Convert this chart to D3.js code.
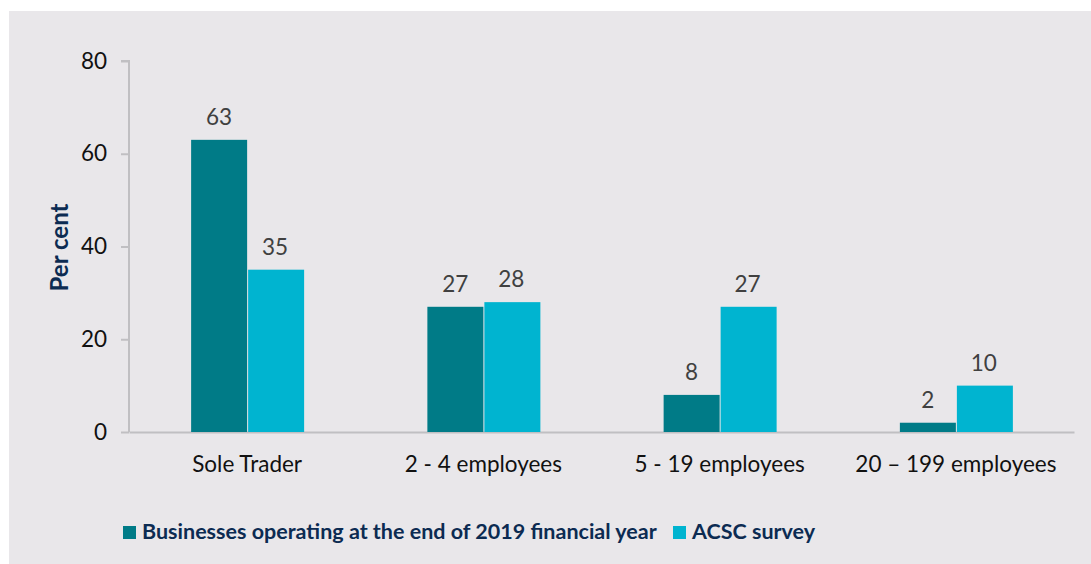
<!DOCTYPE html>
<html><head><meta charset="utf-8">
<script src="https://cdn.jsdelivr.net/npm/d3@7"></script>
<style>
html,body{margin:0;padding:0;background:#fff;}
svg{display:block;}
text{font-family:Lato,"Open Sans",sans-serif;}
</style></head>
<body>
<script>
const categories = ["Sole Trader", "2 - 4 employees", "5 - 19 employees", "20 \u2013 199 employees"];
const businesses = [63, 27, 8, 2];
const acsc = [35, 28, 27, 10];
const seriesNames = ["Businesses operating at the end of 2019 financial year", "ACSC survey"];
const yTicks = [0, 20, 40, 60, 80];

const W = 1091, H = 564;
const colors = ["#007b87", "#00b4d0"];
const svg = d3.select("body").append("svg").attr("width", W).attr("height", H);
svg.append("rect").attr("x", 9).attr("y", 11).attr("width", W - 9).attr("height", H - 11).attr("fill", "#e9e7ea");

const x0 = 129, x1 = 1074, yTop = 61, yBot = 432;
const x = d3.scaleBand().domain(categories).range([x0, x1]).padding(0);
const y = d3.scaleLinear().domain([0, 80]).range([yBot, yTop]);
const barW = 56;
const fs = 22.5;

// y axis
const yAxis = svg.append("g").attr("transform", `translate(${x0},0)`)
  .call(d3.axisLeft(y).tickValues(yTicks).tickSize(8).tickPadding(14));
yAxis.select(".domain").attr("stroke", "#c0bfc2").attr("stroke-width", 2).attr("d", `M-8,${yTop}H0V${yBot}`);
yAxis.selectAll(".tick line").attr("stroke", "#c0bfc2").attr("stroke-width", 2);
yAxis.selectAll(".tick text").attr("font-size", fs).attr("fill", "#111").style("font-family", "Lato, sans-serif");

// x axis
const xAxis = svg.append("g").attr("transform", `translate(0,${yBot})`)
  .call(d3.axisBottom(x).tickSize(0).tickPadding(24));
xAxis.select(".domain").attr("stroke", "#c0bfc2").attr("stroke-width", 2);
xAxis.selectAll(".tick text").attr("font-size", fs).attr("fill", "#111").style("font-family", "Lato, sans-serif");

// y title
svg.append("text").attr("transform", `translate(68,${(yTop + yBot) / 2 + 1}) rotate(-90)`)
  .attr("text-anchor", "middle").attr("font-size", 24).attr("font-weight", "bold").attr("fill", "#0c2b52")
  .text("Per cent");

const series = [businesses, acsc];
series.forEach((vals, si) => {
  const g = svg.append("g");
  g.selectAll("rect").data(vals).join("rect")
    .attr("x", (d, i) => x(categories[i]) + x.bandwidth() / 2 - barW + si * barW + (si ? 1 : 0))
    .attr("y", d => y(d))
    .attr("width", barW)
    .attr("height", d => yBot - y(d))
    .attr("fill", colors[si]);
  g.selectAll("text").data(vals).join("text")
    .attr("x", (d, i) => x(categories[i]) + x.bandwidth() / 2 - barW / 2 + si * barW)
    .attr("y", d => y(d) - 15)
    .attr("text-anchor", "middle").attr("font-size", fs).attr("fill", "#404040")
    .text(d => d);
});

// legend
const legX = [123, 673];
seriesNames.forEach((n, i) => {
  svg.append("rect").attr("x", legX[i]).attr("y", 526).attr("width", 13).attr("height", 13).attr("fill", colors[i]);
  svg.append("text").attr("x", legX[i] + 19).attr("y", 539).attr("font-size", 21.5).attr("font-weight", "bold")
    .attr("fill", "#0c2b52").text(n);
});
</script>
</body></html>
